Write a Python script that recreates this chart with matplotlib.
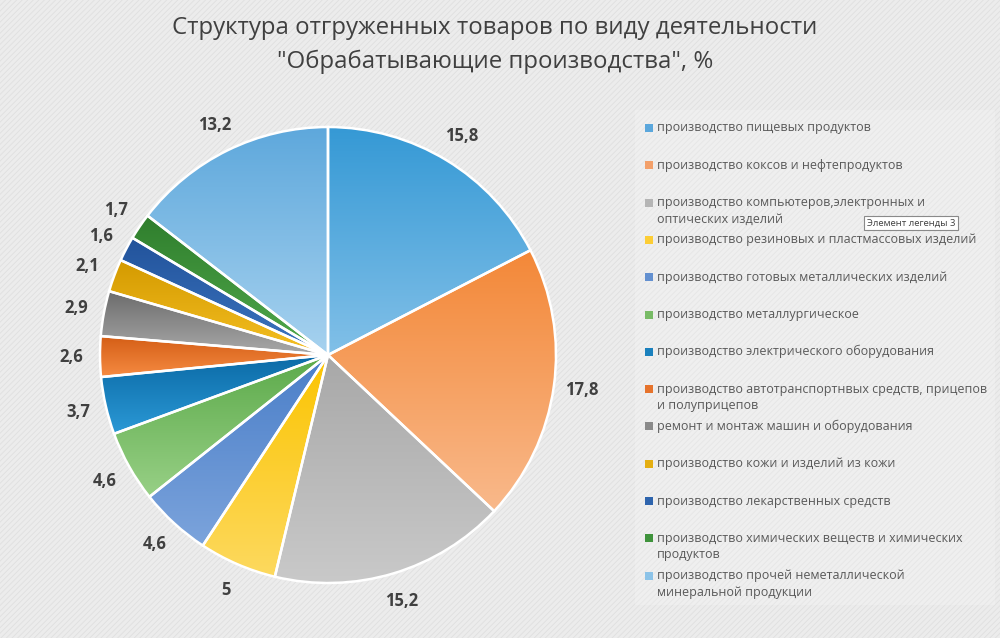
import numpy as np
import matplotlib
matplotlib.use("Agg")
import matplotlib.pyplot as plt
from matplotlib.colors import LinearSegmentedColormap
from matplotlib.patches import Rectangle

# ---- data ----
categories = [
    "производство пищевых продуктов",
    "производство коксов и нефтепродуктов",
    "производство компьютеров,электронных и\nоптических изделий",
    "производство резиновых и пластмассовых изделий",
    "производство готовых металлических изделий",
    "производство металлургическое",
    "производство электрического оборудования",
    "производство автотранспортнвых средств, прицепов\nи полуприцепов",
    "ремонт и монтаж машин и оборудования",
    "производство кожи и изделий из кожи",
    "производство лекарственных средств",
    "производство химических веществ и химических\nпродуктов",
    "производство прочей неметаллической\nминеральной продукции",
]
values = [15.8, 17.8, 15.2, 5, 4.6, 4.6, 3.7, 2.6, 2.9, 2.1, 1.6, 1.7, 13.2]
value_labels = ["15,8", "17,8", "15,2", "5", "4,6", "4,6", "3,7", "2,6", "2,9", "2,1", "1,6", "1,7", "13,2"]

# gradient colours (top, bottom) and legend colour
top_colors = ["#3599d5", "#f38838", "#a8a8a8", "#fbc400", "#4a7ec8", "#5caa4a", "#0b6aa6",
              "#d45e16", "#6c6c6c", "#d49a00", "#22539b", "#2f7e2d", "#5ea8dc"]
bottom_colors = ["#82c0e8", "#f9b98b", "#c9c9c9", "#fdd95f", "#7ca4dc", "#98d086", "#2b99d6",
                 "#f68b42", "#a9a9a9", "#f5c023", "#3c75c0", "#52aa4c", "#a7d2ef"]
legend_colors = ["#5ba7dc", "#f3a06a", "#b5b5b5", "#fccd35", "#6390d0", "#78bb66", "#1a80bd",
                 "#e6732c", "#8a8a8a", "#e4ae12", "#2e64ad", "#3f933c", "#8cc3e8"]

W, H = 1000, 638
fig = plt.figure(figsize=(W / 100, H / 100), dpi=100)
fig.patch.set_facecolor("#ececec")
plt.rcParams["hatch.linewidth"] = 0.6
plt.rcParams["hatch.color"] = "#e0e0e0"
fig.add_artist(Rectangle((0, 0), 1, 1, transform=fig.transFigure, facecolor="none",
                         edgecolor="#dfdfdf", hatch="//////", linewidth=0, zorder=-10))

def fx(px):
    return px / W

def fy(py):
    return 1 - py / H

FONT = ["Open Sans", "DejaVu Sans"]

# legend background (very subtle)
fig.add_artist(Rectangle((fx(635), fy(605)), fx(360), 495 / H, transform=fig.transFigure,
                         facecolor="#f6f6f6", edgecolor="none", alpha=0.3, zorder=-5))

# title
fig.text(fx(495), fy(28), "Структура отгруженных товаров по виду деятельности",
         ha="center", va="center", fontsize=17.3, color="#404040", family=FONT)
fig.text(fx(495), fy(62), "\"Обрабатывающие производства\", %",
         ha="center", va="center", fontsize=17.3, color="#404040", family=FONT)

# pie
R = 228.0
cx, cy = 328, 355
half = 300
ax = fig.add_axes([fx(cx - half), (H - cy - half) / H, 2 * half / W, 2 * half / H])
ax.set_facecolor("none")
ax.axis("off")

wedges, texts = ax.pie(values, startangle=90, counterclock=False, radius=1,
                       colors=legend_colors, labels=value_labels, labeldistance=1.125,
                       wedgeprops=dict(edgecolor="white", linewidth=1.8),
                       textprops=dict(fontsize=12, fontweight="bold", color="#404040",
                                      family=FONT))
for t in texts:
    t.set_ha("center")
    t.set_va("center")

grad = np.linspace(0, 1, 256).reshape(-1, 1)
for w, tc, bc in zip(wedges, top_colors, bottom_colors):
    ext = w.get_path().get_extents()
    cmap = LinearSegmentedColormap.from_list("g", [bc, tc])
    im = ax.imshow(grad, cmap=cmap, origin="lower", aspect="auto",
                   extent=[ext.x0, ext.x1, ext.y0, ext.y1], zorder=1, interpolation="bilinear")
    im.set_clip_path(w)
    w.set_facecolor("none")
    w.set_zorder(2)

ax.set_aspect("equal")
ax.set_xlim(-half / R, half / R)
ax.set_ylim(-half / R, half / R)

# legend (manual, Excel-like uniform spacing)
y0 = 128
step = 37.3
line_h = 16.5
for i, (lab, col) in enumerate(zip(categories, legend_colors)):
    y = y0 + i * step
    fig.add_artist(Rectangle((fx(645), fy(y + 4)), fx(8), 8 / H, transform=fig.transFigure,
                             facecolor=col, edgecolor="none"))
    for j, line in enumerate(lab.split("\n")):
        fig.text(fx(657), fy(y + j * line_h), line, ha="left", va="center", fontsize=9.0,
                 color="#595959", family=FONT)

# tooltip
fig.text(fx(867), fy(223), "Элемент легенды 3", ha="left", va="center", fontsize=6.8,
         color="#404040", family=FONT,
         bbox=dict(boxstyle="square,pad=0.3", facecolor="white", edgecolor="#8a8a8a", linewidth=0.8))

fig.savefig("out.png", dpi=100, facecolor=fig.get_facecolor())
